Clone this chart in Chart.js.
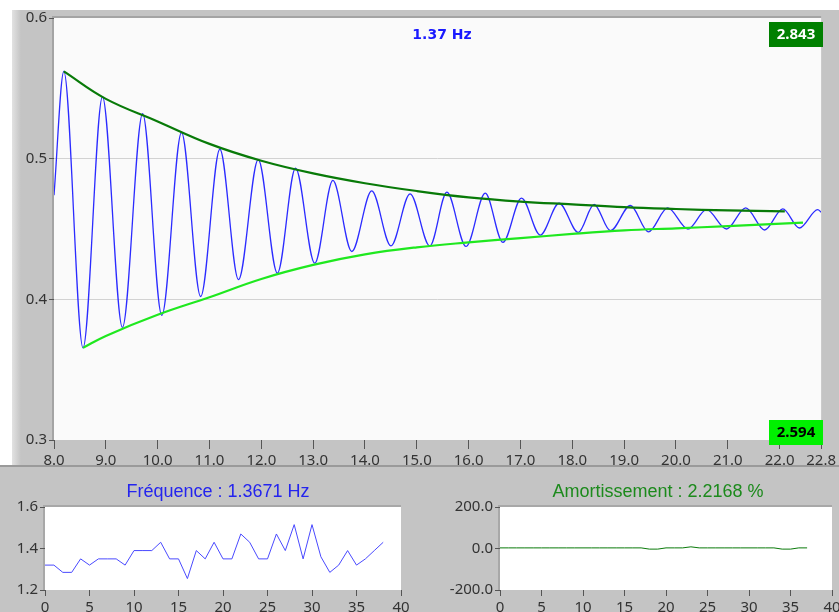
<!DOCTYPE html>
<html>
<head>
<meta charset="utf-8">
<script src="https://cdn.jsdelivr.net/npm/chart.js@4.4.1/dist/chart.umd.min.js"></script>
<style>
  body { margin: 0; width: 839px; height: 612px; overflow: hidden; background: #ffffff; position: relative; }
  .panel { position: absolute; }
  #panelTop { left: 12px; top: 10px; width: 827px; height: 456px; background: linear-gradient(to right, #e2e2e2 0px, #c4c4c4 9px); }
  #panelBottom { left: 0; top: 465px; width: 839px; height: 147px; background: #c4c4c4; border-top: 2px solid #9a9a9a; }
  canvas { position: absolute; }
</style>
</head>
<body>
<div class="panel" id="panelTop"></div>
<div class="panel" id="panelBottom"></div>
<canvas id="mainChart" width="839" height="470" style="left:0;top:0"></canvas>
<canvas id="freqChart" width="420" height="146" style="left:0;top:466px"></canvas>
<canvas id="dampChart" width="440" height="146" style="left:420px;top:466px"></canvas>
<script>
// signal extrema (time, amplitude)
const signalX = [8.0, 8.19, 8.56, 8.935, 9.32, 9.71, 10.08, 10.46, 10.83, 11.20, 11.56, 11.94, 12.31, 12.66, 13.03, 13.38, 13.745, 14.13, 14.50, 14.87, 15.25, 15.58, 15.95, 16.32, 16.66, 17.02, 17.38, 17.745, 18.115, 18.42, 18.735, 19.12, 19.47, 19.84, 20.23, 20.59, 20.975, 21.345, 21.71, 22.06, 22.38, 22.735, 22.8];
const signalY = [0.474, 0.562, 0.3655, 0.544, 0.380, 0.532, 0.3886, 0.5186, 0.402, 0.5067, 0.414, 0.4993, 0.4186, 0.4933, 0.4257, 0.4845, 0.434, 0.4771, 0.438, 0.475, 0.438, 0.4762, 0.4376, 0.4755, 0.4405, 0.472, 0.4457, 0.4683, 0.4476, 0.4674, 0.4488, 0.4667, 0.448, 0.465, 0.45, 0.4638, 0.45, 0.465, 0.4493, 0.4643, 0.4507, 0.4638, 0.462];

// envelopes
const upperX = [8.19, 9, 10, 11, 12, 13, 14, 15, 16, 17, 18, 19, 20, 21, 22.1];
const upperY = [0.562, 0.5425, 0.5265, 0.5105, 0.4985, 0.4895, 0.4825, 0.477, 0.4725, 0.4695, 0.4675, 0.4655, 0.4642, 0.4632, 0.4625];
const lowerX = [8.56, 9, 10, 11, 12, 13, 14, 15, 16, 17, 18, 19, 20, 21, 22.45];
const lowerY = [0.3655, 0.374, 0.389, 0.4015, 0.4145, 0.4245, 0.432, 0.437, 0.4405, 0.4435, 0.4465, 0.449, 0.4505, 0.452, 0.4545];

const mainXTicks = [8, 9, 10, 11, 12, 13, 14, 15, 16, 17, 18, 19, 20, 21, 22, 22.8];
const mainYTicks = [0.3, 0.4, 0.5, 0.6];

// frequency per cycle
const freqY = [1.32, 1.32, 1.285, 1.285, 1.35, 1.32, 1.35, 1.35, 1.35, 1.32, 1.39, 1.39, 1.39, 1.43, 1.35, 1.35, 1.255, 1.39, 1.35, 1.43, 1.35, 1.35, 1.47, 1.43, 1.35, 1.35, 1.47, 1.39, 1.515, 1.35, 1.515, 1.36, 1.285, 1.32, 1.39, 1.32, 1.35, 1.39, 1.43];
const freqYTicks = [1.2, 1.4, 1.6];

// damping per cycle (%)
const dampY = [3, 3, 3, 3, 3, 3, 3, 3, 3, 3, 3, 3, 3, 3, 3, 3, 3, 3, -3, -3, 3, 3, 3, 8, 3, 3, 3, 3, 3, 3, 3, 3, 3, 3, -3, -3, 3, 3];
const dampYTicks = [-200, 0, 200];
const cycleXTicks = [0, 5, 10, 15, 20, 25, 30, 35, 40];

const freqLabel = '1.37 Hz';
const upperBox = '2.843';
const lowerBox = '2.594';
const freqTitle = 'Fréquence : 1.3671 Hz';
const dampTitle = 'Amortissement : 2.2168 %';

Chart.defaults.font.family = '"Noto Sans", sans-serif';
Chart.defaults.color = '#333333';
Chart.defaults.animation = false;

const toXY = (xs, ys) => xs.map((x, i) => ({ x: x, y: ys[i] }));

// plot background + frame
const plotFrame = {
  id: 'plotFrame',
  beforeDraw(chart, args, opts) {
    const a = chart.chartArea, c = chart.ctx;
    c.save();
    c.fillStyle = opts.fill;
    c.fillRect(a.left, a.top, a.right - a.left, a.bottom - a.top);
    c.strokeStyle = opts.edge;
    c.lineWidth = 2;
    c.beginPath();
    c.moveTo(a.left - 1, a.bottom);
    c.lineTo(a.left - 1, a.top - 1);
    c.lineTo(a.right, a.top - 1);
    c.stroke();
    c.restore();
  }
};

// free text and value boxes
const overlays = {
  id: 'overlays',
  afterDraw(chart, args, opts) {
    const c = chart.ctx;
    c.save();
    (opts.items || []).forEach(it => {
      c.font = it.font;
      if (it.box) {
        c.fillStyle = it.box;
        c.fillRect(it.bx, it.by, it.bw, it.bh);
      }
      c.fillStyle = it.color;
      c.textAlign = 'center';
      c.textBaseline = 'middle';
      c.fillText(it.text, it.x, it.y);
    });
    c.restore();
  }
};

const tickFont = { size: 15 };

new Chart(document.getElementById('mainChart'), {
  type: 'line',
  data: {
    datasets: [
      { data: toXY(upperX, upperY), borderColor: '#087a08', borderWidth: 2.2, pointRadius: 0, tension: 0.4 },
      { data: toXY(lowerX, lowerY), borderColor: '#1fe81f', borderWidth: 2.2, pointRadius: 0, tension: 0.4 },
      { data: toXY(signalX, signalY), borderColor: '#2b2bff', borderWidth: 1.3, pointRadius: 0, cubicInterpolationMode: 'monotone' }
    ]
  },
  options: {
    responsive: false,
    layout: { padding: { top: 18, right: 15, left: 0, bottom: 0 } },
    plugins: {
      legend: { display: false },
      tooltip: { enabled: false },
      plotFrame: { fill: '#fafafa', edge: '#a4a4a4' },
      overlays: {
        items: [
          { text: freqLabel, x: 442, y: 35, font: 'bold 14px "DejaVu Sans", sans-serif', color: '#1a1aff' },
          { text: upperBox, x: 796, y: 35, font: 'bold 15px "Noto Sans", sans-serif', color: '#ffffff', box: '#008000', bx: 769, by: 22, bw: 54, bh: 25 },
          { text: lowerBox, x: 796, y: 433, font: 'bold 15px "Noto Sans", sans-serif', color: '#000000', box: '#00f000', bx: 769, by: 420, bw: 54, bh: 25 }
        ]
      }
    },
    scales: {
      x: {
        type: 'linear', min: 8, max: 22.8,
        afterFit(s) { s.height = 30; },
        afterBuildTicks(s) { s.ticks = mainXTicks.map(v => ({ value: v })); },
        ticks: { font: tickFont, color: '#333', padding: 3, maxRotation: 0, autoSkip: false, callback: v => v.toFixed(1) },
        grid: { drawOnChartArea: false, tickLength: 9, tickColor: '#555', color: '#555' },
        border: { display: false }
      },
      y: {
        min: 0.3, max: 0.6,
        afterFit(s) { s.width = 54; },
        afterBuildTicks(s) { s.ticks = mainYTicks.map(v => ({ value: v })); },
        ticks: { font: tickFont, color: '#333', padding: 2, callback: v => v.toFixed(1) },
        grid: {
          tickLength: 5, tickColor: '#555',
          color: ctx => (ctx.tick && (Math.abs(ctx.tick.value - 0.4) < 1e-6 || Math.abs(ctx.tick.value - 0.5) < 1e-6)) ? '#d2d2d2' : 'rgba(0,0,0,0)'
        },
        border: { display: false }
      }
    }
  },
  plugins: [plotFrame, overlays]
});

function smallChart(id, values, yMin, yMax, yTicks, yDecimals, lineColor, yWidth, padRight, title, titleColor, titleX) {
  new Chart(document.getElementById(id), {
    type: 'line',
    data: { datasets: [{ data: values.map((v, i) => ({ x: i, y: v })), borderColor: lineColor, borderWidth: 1, pointRadius: 0, tension: 0 }] },
    options: {
      responsive: false,
      layout: { padding: { top: 41, right: padRight, left: 0, bottom: 0 } },
      plugins: {
        legend: { display: false },
        tooltip: { enabled: false },
        plotFrame: { fill: '#ffffff', edge: '#a8a8a8' },
        overlays: { items: [{ text: title, x: titleX, y: 26, font: '18px "Liberation Sans", Arial, sans-serif', color: titleColor }] }
      },
      scales: {
        x: {
          type: 'linear', min: 0, max: 40,
          afterFit(s) { s.height = 22; },
          afterBuildTicks(s) { s.ticks = cycleXTicks.map(v => ({ value: v })); },
          ticks: { font: tickFont, color: '#333', padding: 3, maxRotation: 0, autoSkip: false },
          grid: { drawOnChartArea: false, tickLength: 6, tickColor: '#555', color: '#555' },
          border: { display: false }
        },
        y: {
          min: yMin, max: yMax,
          afterFit(s) { s.width = yWidth; },
          afterBuildTicks(s) { s.ticks = yTicks.map(v => ({ value: v })); },
          ticks: { font: tickFont, color: '#333', padding: 2, callback: v => v.toFixed(yDecimals) },
          grid: { drawOnChartArea: false, tickLength: 5, tickColor: '#555', color: '#555' },
          border: { display: false }
        }
      }
    },
    plugins: [plotFrame, overlays]
  });
}

smallChart('freqChart', freqY, 1.2, 1.6, freqYTicks, 1, '#4a4aff', 45, 19, freqTitle, '#2424ee', 218);
smallChart('dampChart', dampY, -200, 200, dampYTicks, 1, '#0a7a0a', 80, 28, dampTitle, '#1c8a1c', 238);
</script>
</body>
</html>
